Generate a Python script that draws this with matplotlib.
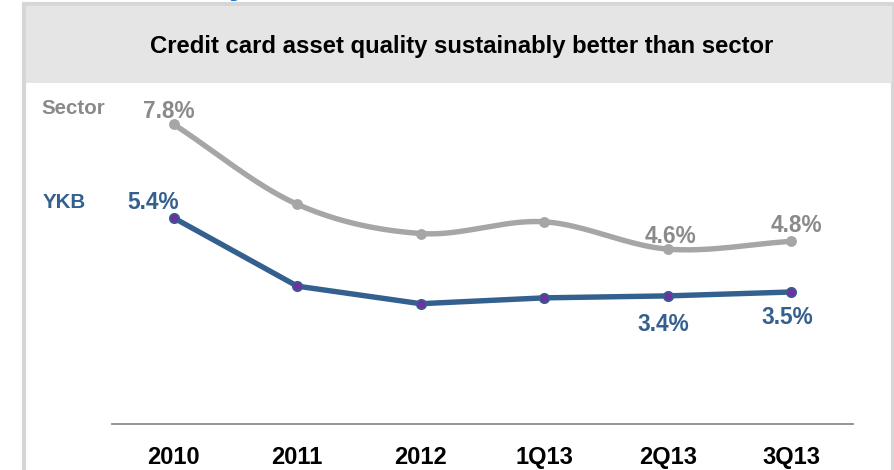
import numpy as np
import matplotlib
matplotlib.use('Agg')
import matplotlib.pyplot as plt
from matplotlib.patches import Rectangle

periods = ['2010', '2011', '2012', '1Q13', '2Q13', '3Q13']
sector = [7.8, 5.75, 5.0, 5.3, 4.6, 4.8]
ykb = [5.4, 3.65, 3.2, 3.35, 3.4, 3.5]
# which points carry a value label
sector_labels = {0: '7.8%', 4: '4.6%', 5: '4.8%'}
ykb_labels = {0: '5.4%', 4: '3.4%', 5: '3.5%'}

grey_line = '#A6A6A6'
grey_text = '#8A8A8A'
blue = '#34608F'
purple = '#7030A0'

plt.rcParams['font.family'] = ['Liberation Sans', 'DejaVu Sans']

W, H = 895, 470
fig = plt.figure(figsize=(W / 100, H / 100), dpi=100)


def fx(px):
    return px / W


def fy(py):
    return 1 - py / H


# frame and header band
fig.patches.append(Rectangle((fx(24), fy(480)), fx(869), fy(4) - fy(480),
                             transform=fig.transFigure, facecolor='white',
                             edgecolor='#D6D6D6', lw=3, zorder=-3))
fig.patches.append(Rectangle((fx(26), fy(83)), fx(866), fy(6) - fy(83),
                             transform=fig.transFigure, facecolor='#E5E5E5',
                             edgecolor='none', zorder=-2))
# bottom of a heading that sits above the cropped slide
fig.text(fx(239), fy(-7), 'y', color='#1A73C8', fontsize=26, fontweight='bold',
         ha='center', va='baseline')
fig.text(fx(462), fy(47), 'Credit card asset quality sustainably better than sector',
         fontsize=17.2, fontweight='bold', ha='center', va='center', color='black')


def smooth(xs, ys, n=40):
    # catmull-rom curve through the points, like a smoothed office line
    xs = np.asarray(xs, float)
    ys = np.asarray(ys, float)
    px = np.concatenate([[2 * xs[0] - xs[1]], xs, [2 * xs[-1] - xs[-2]]])
    py = np.concatenate([[2 * ys[0] - ys[1]], ys, [2 * ys[-1] - ys[-2]]])
    ox, oy = [], []
    t = np.linspace(0, 1, n)
    for i in range(1, len(px) - 2):
        for arr, out in ((px, ox), (py, oy)):
            p0, p1, p2, p3 = arr[i - 1:i + 3]
            out.extend(0.5 * (2 * p1 + (-p0 + p2) * t
                              + (2 * p0 - 5 * p1 + 4 * p2 - p3) * t ** 2
                              + (-p0 + 3 * p1 - 3 * p2 + p3) * t ** 3))
    return np.array(ox), np.array(oy)


ax = fig.add_axes([fx(112), fy(424), fx(853) - fx(112), fy(90) - fy(424)])
x = np.arange(len(periods))

sx, sy = smooth(x, sector)
ax.plot(sx, sy, color=grey_line, lw=3.9, solid_capstyle='round', zorder=2)
ax.plot(x, sector, 'o', color=grey_line, ms=6.8, zorder=3)

ax.plot(x, ykb, color=blue, lw=3.9, solid_capstyle='round', zorder=4)
ax.plot(x, ykb, 'o', mfc=purple, mec=blue, mew=1.2, ms=6.8, zorder=5)

sector_off = {0: (-5, 13), 4: (3, 13), 5: (5, 16)}
ykb_off = {0: (-21, 15), 4: (-4, -29), 5: (-4, -26)}
for i, txt in sector_labels.items():
    ax.annotate(txt, (x[i], sector[i]), xytext=sector_off[i], textcoords='offset pixels',
                ha='center', va='center', fontsize=16.3, fontweight='bold', color=grey_text)
for i, txt in ykb_labels.items():
    ax.annotate(txt, (x[i], ykb[i]), xytext=ykb_off[i], textcoords='offset pixels',
                ha='center', va='center', fontsize=16.3, fontweight='bold', color=blue)

fig.text(fx(73), fy(109), 'Sector', fontsize=14.8, fontweight='bold', color=grey_text,
         ha='center', va='center')
fig.text(fx(64), fy(203), 'YKB', fontsize=14.8, fontweight='bold', color=blue,
         ha='center', va='center')

ax.set_xlim(-0.5, 5.5)
ax.set_ylim(0.115, 8.68)
ax.set_xticks(x)
ax.set_xticklabels(periods, fontsize=17, fontweight='bold')
ax.tick_params(axis='x', length=0, pad=16)
ax.set_yticks([])
for s in ['top', 'right', 'left']:
    ax.spines[s].set_visible(False)
ax.spines['bottom'].set_color('#8C8C8C')
ax.spines['bottom'].set_linewidth(1.3)
ax.patch.set_alpha(0)

fig.savefig('out.png', dpi=100)
